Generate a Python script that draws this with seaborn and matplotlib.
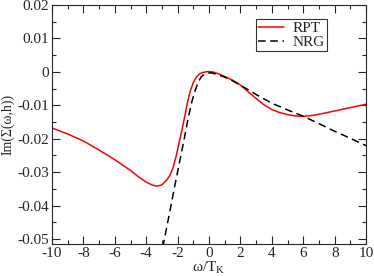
import pandas as pd
import matplotlib
matplotlib.use("Agg")
import matplotlib.pyplot as plt
import seaborn as sns
from matplotlib.ticker import MultipleLocator

# RPT curve
rpt_w = [-10, -9, -8, -7, -6, -5, -4.5, -4, -3.6, -3.3, -3.0, -2.7, -2.5,
         -2.3, -2.1, -1.9, -1.7, -1.5, -1.35, -1.2, -1.0, -0.8, -0.6, -0.4,
         -0.2, 0.0, 0.3, 0.6, 1.0, 1.5, 2.0, 2.5, 3.0, 3.5, 4.0, 4.5, 5.0,
         5.5, 6.0, 6.5, 7.0, 8.0, 9.0, 10.0]
rpt_im = [-0.0168, -0.0186, -0.0207, -0.0234, -0.0263, -0.0295, -0.0314,
          -0.0330, -0.0339, -0.0342, -0.0338, -0.0324, -0.0310, -0.0288,
          -0.0253, -0.0210, -0.0168, -0.0122, -0.0086, -0.0058, -0.0032,
          -0.0015, -0.0006, -0.0002, 0.0000, 0.0001, -0.0001, -0.0006,
          -0.0014, -0.0025, -0.0040, -0.0060, -0.0080, -0.0099, -0.0113,
          -0.0122, -0.0128, -0.0132, -0.0133, -0.0131, -0.0127, -0.0117,
          -0.0107, -0.0097]

# NRG curve
nrg_w = [-2.95, -2.8, -2.5, -2.2, -1.9, -1.6, -1.35, -1.1, -0.9, -0.7, -0.5,
         -0.3, -0.1, 0.1, 0.3, 0.6, 1.0, 1.5, 2.0, 3.0, 4.0, 5.0, 6.0, 7.0,
         8.0, 9.0, 10.0]
nrg_im = [-0.0525, -0.0490, -0.0418, -0.0345, -0.0275, -0.0205, -0.0143,
          -0.0090, -0.0058, -0.0032, -0.0015, -0.0007, -0.0004, -0.0003,
          -0.0005, -0.0009, -0.0016, -0.0027, -0.0040, -0.0068, -0.0094,
          -0.0114, -0.0133, -0.0155, -0.0178, -0.0199, -0.0221]

x_ticks = [-10, -8, -6, -4, -2, 0, 2, 4, 6, 8, 10]
y_ticks = [0.02, 0.01, 0, -0.01, -0.02, -0.03, -0.04, -0.05]
y_tick_labels = ["0.02", "0.01", "0", "-0.01", "-0.02", "-0.03", "-0.04", "-0.05"]

sns.set_style("ticks")
plt.rcParams["font.family"] = ["Liberation Serif", "DejaVu Serif"]
plt.rcParams["mathtext.fontset"] = "custom"
plt.rcParams["mathtext.rm"] = "Liberation Serif"

fig = plt.figure(figsize=(3.74, 2.76), dpi=100)
ax = fig.add_axes([0.139, 0.116, 0.840, 0.866])

df_rpt = pd.DataFrame({"w": rpt_w, "im": rpt_im})
df_nrg = pd.DataFrame({"w": nrg_w, "im": nrg_im})

sns.lineplot(data=df_rpt, x="w", y="im", ax=ax, color="#ff0000", lw=1.1,
             label="RPT", sort=False)
sns.lineplot(data=df_nrg, x="w", y="im", ax=ax, color="black", lw=1.1,
             label="NRG", sort=False)
ax.lines[1].set_dashes([5, 3])

ax.set_xlim(-10, 10)
ax.set_ylim(-0.0515, 0.02)
ax.set_xticks(x_ticks)
ax.set_xticklabels([str(t) for t in x_ticks])
ax.set_yticks(y_ticks)
ax.set_yticklabels(y_tick_labels)
ax.xaxis.set_minor_locator(MultipleLocator(1))
ax.yaxis.set_minor_locator(MultipleLocator(0.005))
ax.tick_params(which="both", direction="in", top=True, right=True,
               labelsize=11, width=0.8, pad=2)
ax.tick_params(which="major", length=6)
ax.tick_params(which="minor", length=3)
for sp in ax.spines.values():
    sp.set_linewidth(0.8)
    sp.set_visible(True)

ax.set_xlabel(r"ω/T$_\mathrm{K}$", fontsize=11, labelpad=0)
ax.set_ylabel("Im(Σ(ω,h))", fontsize=10, labelpad=2)

leg = ax.legend(loc="upper left", bbox_to_anchor=(0.65, 0.94), fontsize=11,
                frameon=True, fancybox=False, edgecolor="black",
                borderpad=0.15, handlelength=1.7, handletextpad=0.5,
                labelspacing=0.0, borderaxespad=0)
leg.get_frame().set_linewidth(0.8)

fig.savefig("out.png", dpi=100)
